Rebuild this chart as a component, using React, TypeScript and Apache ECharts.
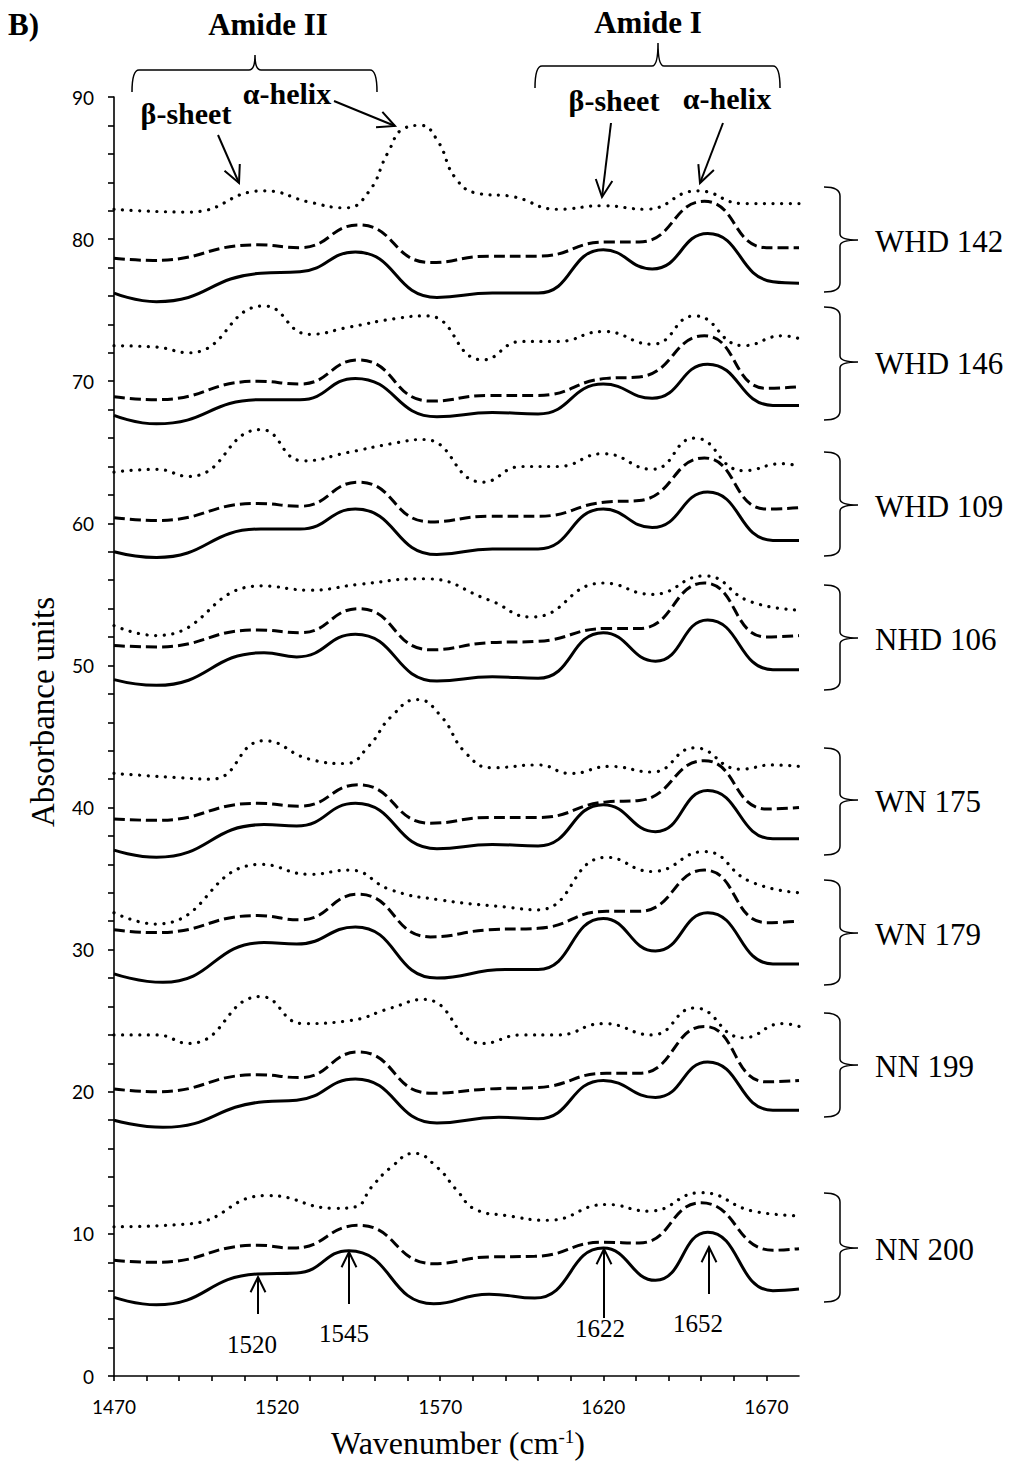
import { useEffect, useRef } from "react";
import * as echarts from "echarts";

type Pt = [number, number];

// ---------- axes ----------
const X_MIN = 1470;
const X_MAX = 1680;
const Y_MIN = 0;
const Y_MAX = 90;
const X_LABEL_STEP = 50;
const Y_LABEL_STEP = 10;

// ---------- sample names (top to bottom) ----------
const SAMPLE_NAMES = ["WHD 142", "WHD 146", "WHD 109", "NHD 106", "WN 175", "WN 179", "NN 199", "NN 200"];

// ---------- peak annotations ----------
const PEAK_LABELS = ["1520", "1545", "1622", "1652"];

// ---------- spectra: [wavenumber, absorbance] ----------
const WHD142_DOT: Pt[] = [[1470,82.1],[1493,81.9],[1516,83.4],[1530,82.6],[1541,82.2],[1548,83.3],[1554,86.1],[1559,87.8],[1564,88.0],[1569,87.0],[1575,84.2],[1582,83.2],[1592,83.0],[1606,82.1],[1620,82.35],[1633,82.1],[1649,83.4],[1663,82.5],[1680,82.5]];
const WHD142_DASH: Pt[] = [[1470,78.66],[1482,78.5],[1514,79.6],[1527,79.4],[1545,81.0],[1567,78.35],[1585,78.8],[1600,78.8],[1621,79.8],[1631,79.8],[1651,82.66],[1670,79.4],[1680,79.4]];
const WHD142_SOLID: Pt[] = [[1470,76.2],[1483,75.6],[1515,77.6],[1527,77.7],[1544,79.1],[1569,75.9],[1586,76.2],[1600,76.2],[1620,79.25],[1635,77.9],[1652,80.4],[1672,77.0],[1680,76.9]];

const WHD146_DOT: Pt[] = [[1470,72.5],[1483,72.4],[1493,72.0],[1516,75.3],[1530,73.3],[1542,73.8],[1556,74.4],[1566,74.6],[1583,71.5],[1595,72.8],[1606,72.8],[1620,73.5],[1635,72.6],[1648,74.6],[1663,72.5],[1675,73.2],[1680,73.0]];
const WHD146_DASH: Pt[] = [[1470,68.9],[1483,68.7],[1514,70.0],[1527,69.8],[1545,71.5],[1567,68.6],[1585,69.0],[1600,69.0],[1621,70.2],[1631,70.3],[1651,73.2],[1670,69.5],[1680,69.6]];
const WHD146_SOLID: Pt[] = [[1470,67.6],[1483,67.0],[1515,68.7],[1527,68.7],[1544,70.2],[1569,67.5],[1586,67.8],[1600,67.7],[1620,69.8],[1635,68.8],[1652,71.2],[1672,68.3],[1680,68.3]];

const WHD109_DOT: Pt[] = [[1470,63.6],[1483,63.8],[1493,63.3],[1515,66.6],[1528,64.4],[1542,65.0],[1555,65.6],[1565,65.9],[1583,62.9],[1595,64.0],[1606,64.0],[1620,64.9],[1635,63.8],[1648,66.0],[1663,63.7],[1675,64.2],[1680,64.0]];
const WHD109_DASH: Pt[] = [[1470,60.4],[1483,60.2],[1514,61.4],[1527,61.2],[1545,62.9],[1567,60.1],[1585,60.5],[1600,60.5],[1621,61.5],[1631,61.6],[1651,64.6],[1670,61.0],[1680,61.1]];
const WHD109_SOLID: Pt[] = [[1470,58.0],[1483,57.6],[1515,59.6],[1527,59.6],[1544,61.0],[1569,57.8],[1586,58.2],[1600,58.2],[1620,61.0],[1635,59.7],[1652,62.2],[1672,58.8],[1680,58.8]];

const NHD106_DOT: Pt[] = [[1470,52.8],[1483,52.1],[1515,55.6],[1530,55.3],[1545,55.7],[1565,56.1],[1585,54.6],[1598,53.4],[1620,55.8],[1635,55.0],[1651,56.3],[1665,54.5],[1680,53.9]];
const NHD106_DASH: Pt[] = [[1470,51.4],[1483,51.3],[1514,52.5],[1527,52.3],[1545,54.0],[1567,51.1],[1585,51.6],[1600,51.7],[1621,52.6],[1631,52.6],[1651,55.8],[1670,52.0],[1680,52.1]];
const NHD106_SOLID: Pt[] = [[1470,49.0],[1483,48.6],[1516,50.9],[1526,50.6],[1544,52.2],[1569,48.9],[1586,49.2],[1600,49.1],[1620,52.3],[1636,50.3],[1652,53.2],[1672,49.7],[1680,49.7]];

const WN175_DOT: Pt[] = [[1470,42.4],[1490,42.1],[1500,42.0],[1516,44.7],[1530,43.4],[1541,43.1],[1548,44.3],[1555,46.4],[1563,47.6],[1570,46.5],[1578,43.8],[1586,42.8],[1600,43.0],[1610,42.4],[1622,42.9],[1635,42.5],[1648,44.2],[1662,42.7],[1672,43.0],[1680,42.9]];
const WN175_DASH: Pt[] = [[1470,39.2],[1483,39.1],[1514,40.3],[1527,40.1],[1545,41.6],[1567,38.9],[1585,39.3],[1600,39.3],[1621,40.4],[1631,40.5],[1651,43.3],[1670,39.9],[1680,40.0]];
const WN175_SOLID: Pt[] = [[1470,37.0],[1483,36.5],[1516,38.8],[1526,38.7],[1544,40.3],[1569,37.1],[1586,37.4],[1600,37.3],[1620,40.2],[1636,38.3],[1652,41.2],[1672,37.8],[1680,37.8]];

const WN179_DOT: Pt[] = [[1470,32.6],[1483,31.8],[1515,36.0],[1530,35.3],[1542,35.6],[1555,34.2],[1570,33.5],[1590,33.0],[1600,32.8],[1621,36.5],[1635,35.5],[1651,36.9],[1665,34.8],[1680,34.0]];
const WN179_DASH: Pt[] = [[1470,31.4],[1483,31.2],[1514,32.4],[1527,32.1],[1545,33.9],[1567,30.9],[1585,31.4],[1600,31.5],[1621,32.7],[1631,32.7],[1651,35.6],[1670,31.9],[1680,32.0]];
const WN179_SOLID: Pt[] = [[1470,28.3],[1485,27.7],[1516,30.5],[1526,30.4],[1544,31.6],[1569,28.0],[1590,28.6],[1600,28.6],[1620,32.2],[1636,29.9],[1652,32.6],[1672,29.0],[1680,29.0]];

const NN199_DOT: Pt[] = [[1470,24.0],[1483,24.0],[1493,23.4],[1515,26.7],[1528,24.8],[1542,25.0],[1555,25.9],[1565,26.5],[1583,23.4],[1595,24.0],[1606,24.0],[1620,24.8],[1635,24.0],[1648,25.9],[1663,23.8],[1675,24.8],[1680,24.6]];
const NN199_DASH: Pt[] = [[1470,20.2],[1483,20.0],[1514,21.2],[1527,21.0],[1545,22.8],[1567,19.9],[1585,20.2],[1600,20.3],[1621,21.3],[1631,21.3],[1651,24.6],[1670,20.7],[1680,20.8]];
const NN199_SOLID: Pt[] = [[1470,18.0],[1485,17.5],[1516,19.3],[1526,19.4],[1544,20.9],[1569,17.8],[1588,18.2],[1600,18.1],[1620,20.8],[1636,19.6],[1652,22.1],[1672,18.7],[1680,18.7]];

const NN200_DOT: Pt[] = [[1470,10.5],[1493,10.7],[1517,12.7],[1538,11.8],[1544,11.9],[1549,13.3],[1555,14.7],[1562,15.67],[1569,14.7],[1575,13.1],[1581,11.7],[1590,11.3],[1603,10.96],[1621,12.07],[1634,11.6],[1650,12.9],[1666,11.6],[1680,11.28]];
const NN200_DASH: Pt[] = [[1470,8.14],[1483,8.0],[1514,9.2],[1525,9.0],[1545,10.6],[1568,7.9],[1585,8.38],[1599,8.42],[1620,9.41],[1631,9.36],[1650,12.19],[1672,8.85],[1680,8.96]];
const NN200_SOLID: Pt[] = [[1470,5.53],[1483,5.01],[1514,7.18],[1526,7.25],[1542,8.82],[1568,5.08],[1585,5.76],[1599,5.48],[1620,9.0],[1636,6.73],[1652,10.12],[1672,6.0],[1680,6.12]];

const SAMPLE_DATA: { dot: Pt[]; dash: Pt[]; solid: Pt[] }[] = [
  { dot: WHD142_DOT, dash: WHD142_DASH, solid: WHD142_SOLID },
  { dot: WHD146_DOT, dash: WHD146_DASH, solid: WHD146_SOLID },
  { dot: WHD109_DOT, dash: WHD109_DASH, solid: WHD109_SOLID },
  { dot: NHD106_DOT, dash: NHD106_DASH, solid: NHD106_SOLID },
  { dot: WN175_DOT, dash: WN175_DASH, solid: WN175_SOLID },
  { dot: WN179_DOT, dash: WN179_DASH, solid: WN179_SOLID },
  { dot: NN199_DOT, dash: NN199_DASH, solid: NN199_SOLID },
  { dot: NN200_DOT, dash: NN200_DASH, solid: NN200_SOLID },
];

// ---------- layout (pixels) ----------
const SERIF = '"Liberation Serif", "Times New Roman", serif';
const SANS = 'Lato, "Open Sans", sans-serif';
// right-hand braces: [top, bottom, tip]
const BRACES: [number, number, number][] = [
  [187, 292, 240],
  [307, 420, 362],
  [452, 556, 505],
  [585, 690, 638],
  [748, 855, 800],
  [880, 985, 933],
  [1013, 1117, 1065],
  [1193, 1302, 1248],
];

let shapesRegistered = false;
function registerBraces() {
  if (shapesRegistered) return;
  shapesRegistered = true;
  const g: any = echarts.graphic;
  BRACES.forEach(([t, b, m], i) => {
    const d = `M824,${t} Q840,${t} 840,${t + 9} L840,${m - 6} Q840,${m} 858,${m} Q840,${m} 840,${m + 6} L840,${b - 9} Q840,${b} 824,${b}`;
    g.registerShape("braceR" + i, g.extendPath(d, {}));
  });
  g.registerShape(
    "braceTop0",
    g.extendPath("M132,92 Q132,70 139,70 L249,70 Q255,70 255,55 Q255,70 261,70 L370,70 Q377,70 377,92", {})
  );
  g.registerShape(
    "braceTop1",
    g.extendPath("M535,88 Q535,66 542,66 L652,66 Q658,66 658,43 Q658,66 664,66 L773,66 Q780,66 780,88", {})
  );
}

function txt(text: string, x: number, y: number, size: number, opts: any = {}) {
  const bold = opts.bold ? "bold " : "";
  const align = opts.align || "center";
  return {
    type: "text",
    x,
    y,
    rotation: opts.rotation || 0,
    z: 10,
    style: {
      text,
      font: `${bold}${size}px ${SERIF}`,
      fill: "#000",
      align,
      verticalAlign: "middle",
      textAlign: align,
      textVerticalAlign: "middle",
      rich: opts.rich,
    },
  };
}

function arrow(x1: number, y1: number, x2: number, y2: number, head = 19) {
  const ang = Math.atan2(y2 - y1, x2 - x1);
  const a = (26 * Math.PI) / 180;
  const p1 = [x2 - head * Math.cos(ang - a), y2 - head * Math.sin(ang - a)];
  const p2 = [x2 - head * Math.cos(ang + a), y2 - head * Math.sin(ang + a)];
  return [
    { type: "line", z: 10, shape: { x1, y1, x2, y2 }, style: { stroke: "#000", lineWidth: 2 } },
    {
      type: "polyline",
      z: 10,
      shape: { points: [p1, [x2, y2], p2] },
      style: { stroke: "#000", lineWidth: 2, fill: null },
    },
  ];
}

export default function App() {
  const ref = useRef<HTMLDivElement>(null);

  useEffect(() => {
    if (!ref.current) return;
    registerBraces();
    const chart = echarts.init(ref.current, undefined, { renderer: "svg" });

    const series: any[] = [];
    SAMPLE_DATA.forEach((s, i) => {
      const base = { type: "line", smooth: 0.5, showSymbol: false, symbol: "none", silent: true };
      series.push({
        ...base,
        name: SAMPLE_NAMES[i] + " dotted",
        data: s.dot,
        lineStyle: { color: "#000", width: 3.2, type: [0.1, 8.5], cap: "round" },
      });
      series.push({
        ...base,
        name: SAMPLE_NAMES[i] + " dashed",
        data: s.dash,
        lineStyle: { color: "#000", width: 3, type: [11, 5], cap: "butt" },
      });
      series.push({
        ...base,
        name: SAMPLE_NAMES[i] + " solid",
        data: s.solid,
        lineStyle: { color: "#000", width: 3, type: "solid" },
      });
    });

    const elements: any[] = [];
    elements.push(txt("B)", 8, 24, 31, { bold: true, align: "left" }));
    elements.push(txt("Amide II", 268, 24, 31, { bold: true }));
    elements.push(txt("Amide I", 648, 22, 31, { bold: true }));
    elements.push(txt("β-sheet", 186, 113, 30, { bold: true }));
    elements.push(txt("α-helix", 287, 93, 30, { bold: true }));
    elements.push(txt("β-sheet", 614, 100, 30, { bold: true }));
    elements.push(txt("α-helix", 727, 98, 30, { bold: true }));
    elements.push({ type: "braceTop0", z: 10, style: { stroke: "#000", lineWidth: 1.5, fill: null } });
    elements.push({ type: "braceTop1", z: 10, style: { stroke: "#000", lineWidth: 1.5, fill: null } });
    elements.push(...arrow(334, 101, 395, 126));
    elements.push(...arrow(218, 135, 239, 183));
    elements.push(...arrow(611, 123, 602, 197));
    elements.push(...arrow(723, 123, 700, 183));

    elements.push(...arrow(258, 1314, 258, 1277, 17));
    elements.push(...arrow(349, 1304, 349, 1252, 17));
    elements.push(...arrow(604, 1318, 604, 1249, 17));
    elements.push(...arrow(709, 1294, 709, 1247, 17));
    elements.push(txt(PEAK_LABELS[0], 252, 1344, 25));
    elements.push(txt(PEAK_LABELS[1], 344, 1333, 25));
    elements.push(txt(PEAK_LABELS[2], 600, 1328, 25));
    elements.push(txt(PEAK_LABELS[3], 698, 1323, 25));

    BRACES.forEach(([, , m], i) => {
      elements.push({ type: "braceR" + i, z: 10, style: { stroke: "#000", lineWidth: 1.5, fill: null } });
      elements.push(txt(SAMPLE_NAMES[i], 875, m + 1, 31, { align: "left" }));
    });

    elements.push(
      txt("{a|Wavenumber (cm}{s|-1}{a|)}", 458, 1443, 32, {
        rich: {
          a: { font: `32px ${SERIF}`, fill: "#000" },
          s: { font: `19px ${SERIF}`, fill: "#000", padding: [0, 0, 14, 0] },
        },
      })
    );
    elements.push(txt("Absorbance units", 43, 712, 33, { rotation: Math.PI / 2 }));

    chart.setOption({
      animation: false,
      backgroundColor: "#fff",
      grid: { left: 114, right: 212, top: 97, bottom: 89, containLabel: false },
      xAxis: {
        type: "value",
        min: X_MIN,
        max: X_MAX,
        interval: 10,
        axisLine: { show: true, onZero: true, lineStyle: { color: "#000", width: 1.6 } },
        axisTick: { show: true, inside: false, length: 5, lineStyle: { color: "#000", width: 1.6 } },
        splitLine: { show: false },
        axisLabel: {
          color: "#000",
          fontFamily: SANS,
          fontSize: 19,
          margin: 21,
          showMaxLabel: false,
          formatter: (v: number) => ((v - X_MIN) % X_LABEL_STEP === 0 ? String(v) : ""),
        },
      },
      yAxis: {
        type: "value",
        min: Y_MIN,
        max: Y_MAX,
        interval: 2,
        axisLine: { show: true, lineStyle: { color: "#000", width: 1.6 } },
        axisTick: { show: true, inside: false, length: 6, lineStyle: { color: "#000", width: 1.6 } },
        splitLine: { show: false },
        axisLabel: {
          color: "#000",
          fontFamily: SANS,
          fontSize: 19,
          margin: 20,
          formatter: (v: number) => (v % Y_LABEL_STEP === 0 ? String(v) : ""),
        },
      },
      series,
      graphic: { elements },
    });

    return () => chart.dispose();
  }, []);

  return (
    <div
      ref={ref}
      style={{ position: "absolute", left: 0, top: 0, width: 1011, height: 1465, background: "#fff" }}
    />
  );
}
